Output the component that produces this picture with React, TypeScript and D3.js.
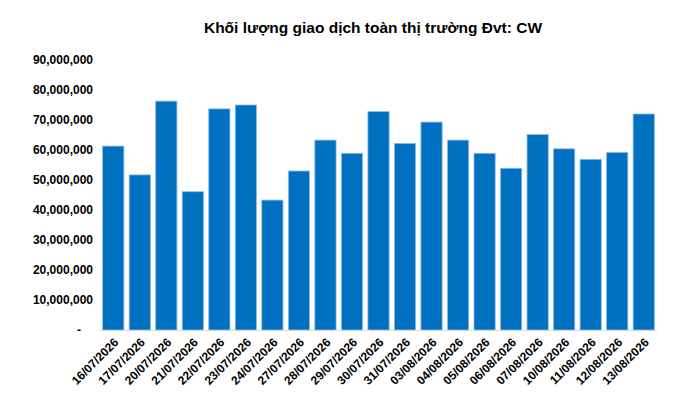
import { useEffect, useRef } from "react";
import * as d3 from "d3";

const dates = [
  "16/07/2026", "17/07/2026", "20/07/2026", "21/07/2026", "22/07/2026", "23/07/2026", "24/07/2026",
  "27/07/2026", "28/07/2026", "29/07/2026", "30/07/2026", "31/07/2026", "03/08/2026", "04/08/2026",
  "05/08/2026", "06/08/2026", "07/08/2026", "10/08/2026", "11/08/2026", "12/08/2026", "13/08/2026",
];
const volumes = [
  61300000, 51700000, 76300000, 46100000, 73700000, 75000000, 43300000,
  53000000, 63300000, 58900000, 72800000, 62200000, 69300000, 63300000,
  58900000, 53900000, 65200000, 60400000, 56900000, 59200000, 72000000,
];
const yTicks = [0, 10000000, 20000000, 30000000, 40000000, 50000000, 60000000, 70000000, 80000000, 90000000];
const title = "Khối lượng giao dịch toàn thị trường Đvt: CW";

const W = 691;
const H = 401;
const margin = { top: 60, right: 34, bottom: 71, left: 100 };

export default function App() {
  const ref = useRef<SVGSVGElement>(null);

  useEffect(() => {
    document.body.style.margin = "0";
    if (!ref.current) return;
    const svg = d3.select(ref.current);
    svg.selectAll("*").remove();

    const x = d3
      .scaleBand<string>()
      .domain(dates)
      .range([margin.left, W - margin.right])
      .paddingInner(0.2)
      .paddingOuter(0.1);
    const y = d3
      .scaleLinear()
      .domain([0, 90000000])
      .range([H - margin.bottom, margin.top]);

    svg
      .append("rect")
      .attr("width", W)
      .attr("height", H)
      .attr("fill", "#ffffff");

    svg
      .append("text")
      .attr("x", 373)
      .attr("y", 33)
      .attr("text-anchor", "middle")
      .attr("font-family", "Arial, 'Liberation Sans', sans-serif")
      .attr("font-weight", "bold")
      .attr("font-size", 15.5)
      .attr("fill", "#000")
      .text(title);

    // y labels (Excel accounting style: zero shown as a dash)
    const fmt = d3.format(",");
    svg
      .append("g")
      .selectAll("text")
      .data(yTicks)
      .enter()
      .append("text")
      .attr("x", (d) => (d === 0 ? 81 : 93))
      .attr("y", (d) => y(d))
      .attr("dy", "0.35em")
      .attr("text-anchor", "end")
      .attr("font-family", "Arial, 'Liberation Sans', sans-serif")
      .attr("font-weight", "bold")
      .attr("font-size", 12)
      .attr("fill", "#000")
      .text((d) => (d === 0 ? "-" : fmt(d)));

    svg
      .append("g")
      .selectAll("rect")
      .data(volumes)
      .enter()
      .append("rect")
      .attr("x", (_, i) => x(dates[i]) ?? 0)
      .attr("y", (d) => y(d))
      .attr("width", x.bandwidth())
      .attr("height", (d) => y(0) - y(d))
      .attr("fill", "#0070c0")
      .attr("stroke", "#8fbce6")
      .attr("stroke-width", 0.8);

    svg
      .append("line")
      .attr("x1", margin.left)
      .attr("x2", W - margin.right)
      .attr("y1", y(0) + 0.5)
      .attr("y2", y(0) + 0.5)
      .attr("stroke", "#d9d9d9")
      .attr("stroke-width", 1);

    svg
      .append("g")
      .selectAll("text")
      .data(dates)
      .enter()
      .append("text")
      .attr("transform", (d) => `translate(${(x(d) ?? 0) + x.bandwidth() / 2 + 3},${y(0) + 10}) rotate(-45)`)
      .attr("text-anchor", "end")
      .attr("dy", "0.35em")
      .attr("font-family", "Arial, 'Liberation Sans', sans-serif")
      .attr("font-weight", "bold")
      .attr("font-size", 12)
      .attr("fill", "#000")
      .text((d) => d);
  }, []);

  return <svg ref={ref} width={W} height={H} style={{ position: "absolute", left: 0, top: 0, display: "block" }} />;
}
